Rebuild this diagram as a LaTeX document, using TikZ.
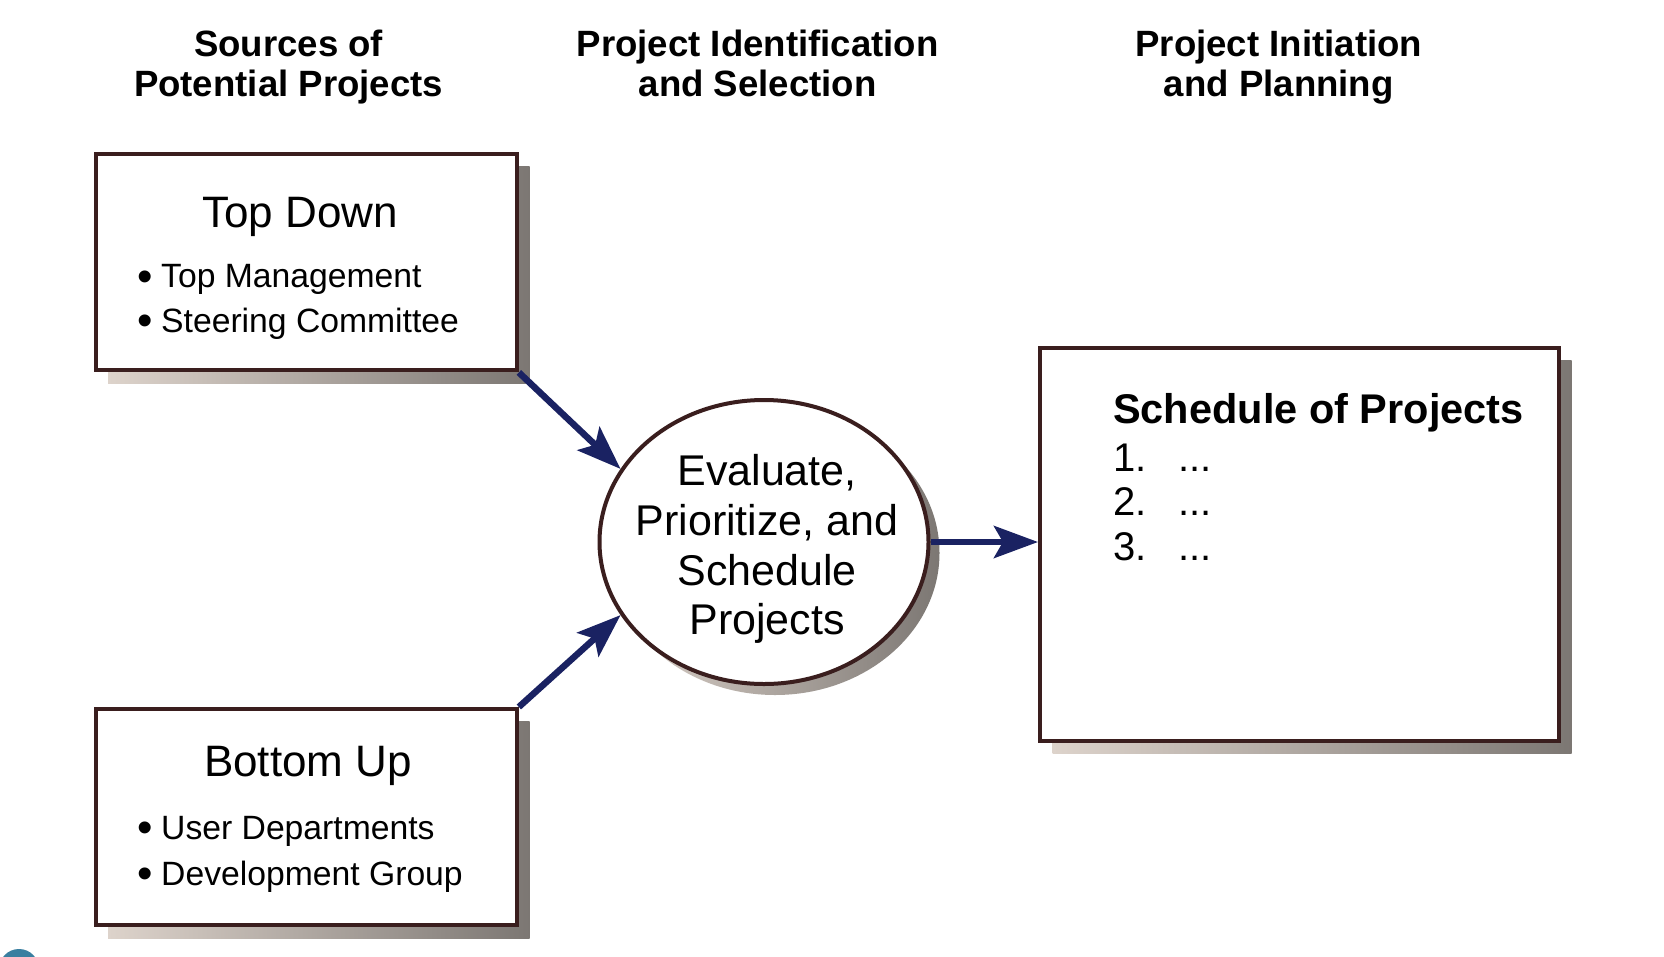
\documentclass[tikz,border=0pt]{standalone}
\usepackage{fontspec}
\setmainfont{Liberation Sans}
\usetikzlibrary{shapes.geometric,arrows.meta,calc}
\definecolor{brd}{HTML}{3A1E1E}
\definecolor{navy}{HTML}{1A2262}
\definecolor{shL}{HTML}{DDD3CB}
\definecolor{shR}{HTML}{7C7773}
\definecolor{dotteal}{HTML}{3A7FA0}
\newcommand{\bul}{\makebox[24pt][l]{\raisebox{-3.5pt}{\fontsize{44}{40}\selectfont •}}}
\tikzset{
  box/.style={draw=brd, line width=4pt, fill=white, inner sep=0pt},
  oval/.style={draw=brd, line width=4pt, fill=white, ellipse, inner sep=0pt},
  arr/.style={draw=navy, line width=6.5pt, -{Stealth[length=44pt,width=32pt,inset=9pt]}},
  hd/.style={font=\fontsize{36.6}{40}\selectfont\bfseries, inner sep=0pt, anchor=base},
  ttl/.style={font=\fontsize{44}{50}\selectfont, inner sep=0pt, anchor=base},
  itm/.style={font=\fontsize{33.7}{40}\selectfont, inner sep=0pt, anchor=base west},
  evtxt/.style={font=\fontsize{43}{50}\selectfont, inner sep=0pt, anchor=base},
  schd/.style={font=\fontsize{41.5}{46}\selectfont\bfseries, inner sep=0pt, anchor=base west},
  num/.style={font=\fontsize{40}{45}\selectfont, inner sep=0pt, anchor=base west}
}
\begin{document}
\begin{tikzpicture}[x=1pt,y=-1pt]
\useasboundingbox (0,0) rectangle (1664,956);
\begin{scope}
\clip (0,0) rectangle (1664,956);
\fill[white] (0,0) rectangle (1664,956);
\fill[dotteal] (19,969) circle (20pt);
\end{scope}

% headers
\node[hd] (h1a) at (288.6,56) {Sources of};
\node[hd] (h1b) at (288.6,96) {Potential Projects};
\node[hd] (h2a) at (757.7,56) {Project Identification};
\node[hd] (h2b) at (757.7,96) {and Selection};
\node[hd] (h3a) at (1278.8,56) {Project Initiation};
\node[hd] (h3b) at (1278.8,96) {and Planning};

% shadows
\shade[left color=shL, right color=shR] (108.2,166.6) rectangle (529.5,383.1);
\shade[left color=shL, right color=shR] (108.2,721.6) rectangle (529.5,938.1);
\shade[left color=shL, right color=shR] (1052.7,360.7) rectangle (1571.7,753.7);
\shade[left color=shL, right color=shR] (775,553) ellipse [x radius=164.5pt, y radius=142pt];

% boxes
\node[box, minimum width=421.3pt, minimum height=216.5pt] (td) at (306.2,262.2) {};
\node[box, minimum width=421.3pt, minimum height=216.5pt] (bu) at (306.2,817.2) {};
\node[oval, minimum width=329pt, minimum height=284pt] (ev) at (764,542) {};
\node[box, minimum width=519pt, minimum height=393pt] (sp) at (1299.5,544.5) {};

% Top Down text
\node[ttl] (tdt) at (300,227) {Top Down};
\node[itm] (td1) at (137,287.5) {\bul Top Management};
\node[itm] (td2) at (137,332) {\bul Steering Committee};

% Bottom Up text
\node[ttl] (but) at (308,776) {Bottom Up};
\node[itm] (bu1) at (137,839.4) {\bul User Departments};
\node[itm] (bu2) at (137,885) {\bul Development Group};

% ellipse text
\node[evtxt] (e1) at (767,485) {Evaluate,};
\node[evtxt] (e2) at (767,535) {Prioritize, and};
\node[evtxt] (e3) at (767,585) {Schedule};
\node[evtxt] (e4) at (767,634.6) {Projects};

% schedule
\node[schd] (st) at (1113,423.4) {Schedule of Projects};
\node[num] (n1) at (1113,471) {1.};
\node[num] (n2) at (1113,515.8) {2.};
\node[num] (n3) at (1113,560.3) {3.};
\node[num] (d1) at (1178,471) {...};
\node[num] (d2) at (1178,515.8) {...};
\node[num] (d3) at (1178,560.3) {...};

% arrows
\draw[arr] (td.south east) -- (ev.153.6);
\draw[arr] (bu.north east) -- (ev.207.5);
\draw[arr] (ev.east) -- (ev.east -| sp.west);
\end{tikzpicture}
\end{document}
